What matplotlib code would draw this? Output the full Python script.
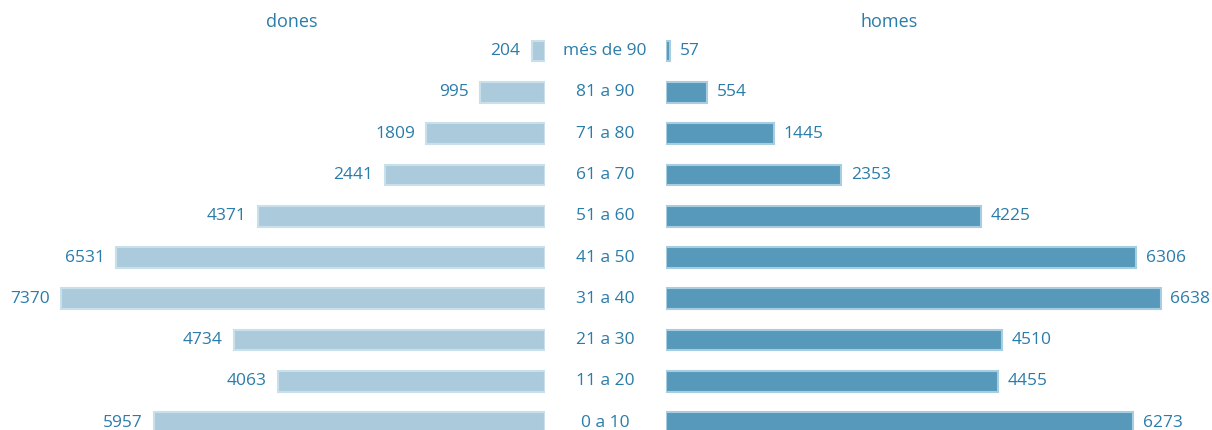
import matplotlib
matplotlib.use("Agg")
import matplotlib.pyplot as plt
from matplotlib.transforms import blended_transform_factory

# age groups, top to bottom
groups = ["més de 90", "81 a 90", "71 a 80", "61 a 70", "51 a 60",
          "41 a 50", "31 a 40", "21 a 30", "11 a 20", "0 a 10"]
dones = [204, 995, 1809, 2441, 4371, 6531, 7370, 4734, 4063, 5957]
homes = [57, 554, 1445, 2353, 4225, 6306, 6638, 4510, 4455, 6273]

txt_col = "#2a7caa"
col_dones = "#abcbdc"
edge_dones = "#c9dfea"
col_homes = "#5799ba"
edge_homes = "#a8cde0"

plt.rcParams['font.family'] = ['Open Sans', 'DejaVu Sans']
fs = 12.5

W, H = 1212, 430
fig = plt.figure(figsize=(W / 100, H / 100), dpi=100)

axL = fig.add_axes([0, 0, 545 / W, 1])
axR = fig.add_axes([666 / W, 0, 546 / W, 1])

y = list(range(len(groups)))
row = 41.3
top = 51
ylim = ((H - top) / row, -top / row)

axL.barh(y, dones, height=0.5, color=col_dones, edgecolor=edge_dones, linewidth=1.5)
axR.barh(y, homes, height=0.5, color=col_homes, edgecolor=edge_homes, linewidth=1.5)

axL.set_xlim(545 / 0.0657, 0)
axR.set_xlim(0, 546 / 0.0745)
for ax in (axL, axR):
    ax.set_ylim(*ylim)
    ax.axis("off")

for i, v in enumerate(dones):
    axL.annotate(str(v), (v, i), xytext=(-8, 0), textcoords="offset points",
                 ha="right", va="center", color=txt_col, fontsize=fs)
for i, v in enumerate(homes):
    axR.annotate(str(v), (v, i), xytext=(7, 0), textcoords="offset points",
                 ha="left", va="center", color=txt_col, fontsize=fs)

tr = blended_transform_factory(fig.transFigure, axL.transData)
for i, g in enumerate(groups):
    axL.text(605 / W, i, g, transform=tr, ha="center", va="center",
             color=txt_col, fontsize=fs, clip_on=False)

fig.text(292 / W, 1 - 22 / H, "dones", ha="center", va="center", color=txt_col, fontsize=fs + 0.5)
fig.text(889 / W, 1 - 22 / H, "homes", ha="center", va="center", color=txt_col, fontsize=fs + 0.5)

fig.savefig("out.png", dpi=100)
